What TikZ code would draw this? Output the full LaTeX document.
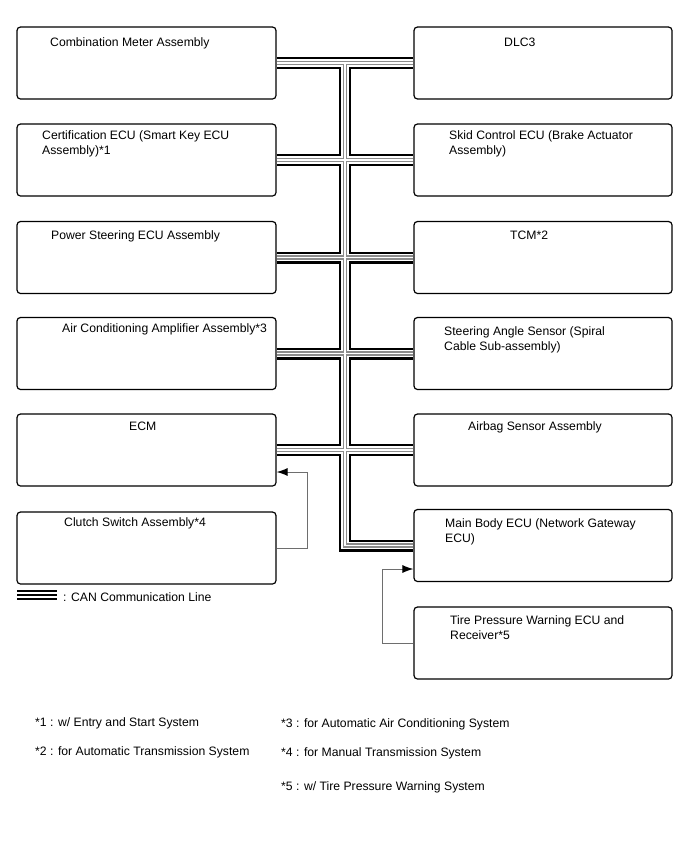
\documentclass[tikz,border=0pt]{standalone}
\usepackage{fontspec}
\setmainfont{Liberation Sans}
\usepackage{tikz}
\usetikzlibrary{arrows.meta}
\definecolor{wiregray}{RGB}{110,110,110}
\definecolor{busgray}{RGB}{140,140,140}

\begin{document}
\begin{tikzpicture}[x=1pt,y=-1pt,
    every node/.style={font=\fontsize{12.2}{15}\selectfont},
    ecu/.style={draw,line width=1.2pt,rounded corners=3.5pt,minimum height=72pt,inner sep=0pt},
    lbox/.style={ecu,minimum width=259pt},
    rbox/.style={ecu,minimum width=258pt},
    txt/.style={anchor=base west,align=left,inner sep=0pt},
    sig/.style={wiregray,line width=1pt,-{Latex[length=11pt,width=8pt,color=black]}}]
  \useasboundingbox (0,0) rectangle (688,852);
  % left column
  \node[lbox] (L1) at (146.5,63) {};
  \node[lbox] (L2) at (146.5,160) {};
  \node[lbox] (L3) at (146.5,257.5) {};
  \node[lbox] (L4) at (146.5,353.5) {};
  \node[lbox] (L5) at (146.5,450) {};
  \node[lbox] (L6) at (146.5,548) {};
  % right column
  \node[rbox] (R1) at (543,63) {};
  \node[rbox] (R2) at (543,160) {};
  \node[rbox] (R3) at (543,257.5) {};
  \node[rbox] (R4) at (543,353.5) {};
  \node[rbox] (R5) at (543,450) {};
  \node[rbox] (R6) at (543,545.5) {};
  \node[rbox] (R7) at (543,643) {};
  \coordinate (bus) at (345,0);
  % CAN lines
  \foreach \w/\c in {12/black,7.5/white,4.5/busgray,1.5/white}{
    \draw[line width=\w pt,\c] (L1.east)--(R1.west) (L2.east)--(R2.west)
      (L3.east)--(R3.west) (L4.east)--(R4.west) (L5.east)--(R5.west);
    \draw[line width=\w pt,\c] (L1.east -| bus)--(R6.west -| bus)--(R6.west);
  }
  % signal lines
  \draw[sig] (L6.east)--++(31,0) |- ([yshift=-22pt]L5.east);
  \draw[sig] (R7.west)--++(-31,0) |- ([yshift=-23.5pt]R6.west);
  % labels
  \node[txt] (L1t) at (50,46) {Combination Meter Assembly};
  \node[txt] (L2t) at (42,154) {Certification ECU (Smart Key ECU\\Assembly)*1};
  \node[txt] (L3t) at (51,239) {Power Steering ECU Assembly};
  \node[txt] (L4t) at (62,332) {Air Conditioning Amplifier Assembly*3};
  \node[txt] (L5t) at (129,430) {ECM};
  \node[txt] (L6t) at (64,526) {Clutch Switch Assembly*4};
  \node[txt] (R1t) at (504,46) {DLC3};
  \node[txt] (R2t) at (449,154) {Skid Control ECU (Brake Actuator\\Assembly)};
  \node[txt] (R3t) at (510,239) {TCM*2};
  \node[txt] (R4t) at (444,350) {Steering Angle Sensor (Spiral\\Cable Sub-assembly)};
  \node[txt] (R5t) at (468,430) {Airbag Sensor Assembly};
  \node[txt] (R6t) at (445,542) {Main Body ECU (Network Gateway\\ECU)};
  \node[txt] (R7t) at (450,639) {Tire Pressure Warning ECU and\\Receiver*5};
  % legend
  \foreach \y in {591,595,599}
    \draw[line width=2pt] (17,\y)--(57,\y);
  \node[txt] (can) at (63,601) {: CAN Communication Line};
  % notes
  \node[txt] (n1) at (35,726) {*1 : w/ Entry and Start System};
  \node[txt] (n2) at (35,755) {*2 : for Automatic Transmission System};
  \node[txt] (n3) at (281,727) {*3 : for Automatic Air Conditioning System};
  \node[txt] (n4) at (281,756) {*4 : for Manual Transmission System};
  \node[txt] (n5) at (281,790) {*5 : w/ Tire Pressure Warning System};
\end{tikzpicture}
\end{document}
